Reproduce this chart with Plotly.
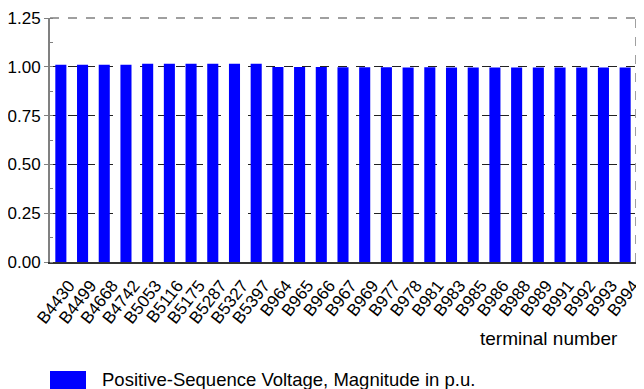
import plotly.graph_objects as go

terminals = ["B4430", "B4499", "B4668", "B4742", "B5053", "B5116", "B5175", "B5287",
             "B5327", "B5397", "B964", "B965", "B966", "B967", "B969", "B977", "B978",
             "B981", "B983", "B985", "B986", "B988", "B989", "B991", "B992", "B993", "B994"]
voltage_pu = [1.010, 1.011, 1.011, 1.011, 1.015, 1.015, 1.015, 1.015, 1.016, 1.016,
              0.999, 0.999, 0.999, 0.998, 0.998, 0.998, 0.997, 0.998, 0.997, 0.997,
              0.997, 0.997, 0.996, 0.996, 0.996, 0.996, 0.996]
y_ticks = [0.0, 0.25, 0.5, 0.75, 1.0, 1.25]
y_ticklabels = ["0.00", "0.25", "0.50", "0.75", "1.00", "1.25"]
legend_label = "Positive-Sequence Voltage, Magnitude in p.u."
x_title = "terminal number"

FONT = "Liberation Sans, Arial, sans-serif"
BLUE = "#0000FF"

# page body has an 8px margin, so the figure is 8px smaller and offset by 8px
fig = go.Figure()
fig.add_trace(go.Bar(
    x=terminals, y=voltage_pu,
    marker=dict(color=BLUE, line=dict(width=0)),
    showlegend=False,
))

fig.update_layout(
    width=636, height=381,
    margin=dict(l=42, r=8, t=10, b=127),
    paper_bgcolor="white", plot_bgcolor="white",
    bargap=0.49,
    font=dict(family=FONT, size=16, color="black"),
)

fig.update_xaxes(
    type="category", range=[-0.5, len(terminals) - 0.5], automargin=False,
    tickmode="array", tickvals=terminals, ticktext=terminals,
    tickangle=-52, tickfont=dict(size=17, family=FONT),
    ticklabelshift=8, ticklabelstandoff=5,
    showline=True, linecolor="#333333", linewidth=2,
    showgrid=False, ticks="", zeroline=False,
)
fig.update_yaxes(
    range=[0, 1.25], tickvals=y_ticks, ticktext=y_ticklabels, automargin=False,
    tickfont=dict(size=17, family=FONT),
    showline=True, linecolor="#808080", linewidth=2,
    ticks="outside", ticklen=4, tickcolor="#808080",
    showgrid=True, gridcolor="#222222", griddash="dash", gridwidth=1,
    zeroline=False,
    minor=dict(dtick=0.125, ticks="inside", ticklen=3, tickcolor="#808080", showgrid=False),
)

# dashed frame on top and right
fig.add_shape(type="line", xref="paper", yref="paper", x0=0, x1=1, y0=1, y1=1,
              line=dict(color="#808080", width=1.5, dash="dash"))
fig.add_shape(type="line", xref="paper", yref="paper", x0=1, x1=1, y0=0, y1=1,
              line=dict(color="#808080", width=1.5, dash="dash"))

# axis title at right under the labels (centre y ~ 337 px page)
fig.add_annotation(text=x_title, xref="paper", yref="paper", x=(620 - 50) / 586,
                   y=-(338 - 262) / 244,
                   xanchor="right", yanchor="middle", showarrow=False,
                   font=dict(size=19, family=FONT))

# manual legend (box 50..86 x, 371..389 y; text centre y ~ 379)
fig.add_shape(type="rect", xref="paper", yref="paper",
              x0=0, x1=36 / 586, y0=-(371 - 262) / 244, y1=-(389 - 262) / 244,
              fillcolor=BLUE, line=dict(width=0))
fig.add_annotation(text=legend_label, xref="paper", yref="paper", x=50 / 586,
                   y=-(379 - 262) / 244,
                   xanchor="left", yanchor="middle", showarrow=False,
                   font=dict(size=18.5, family=FONT))

fig.write_html("out.html")
